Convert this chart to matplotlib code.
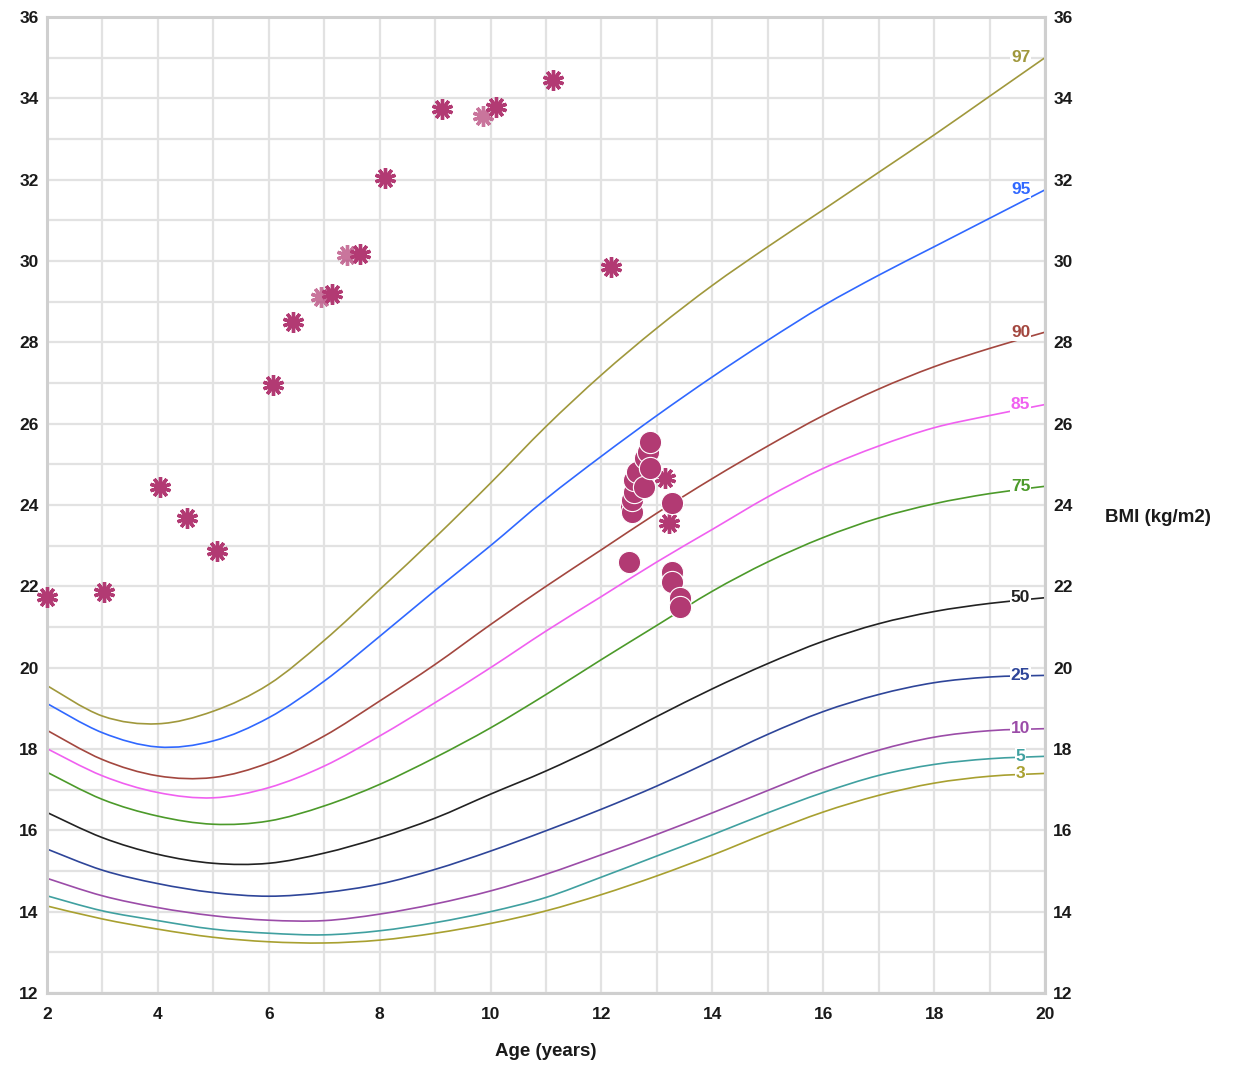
import matplotlib
matplotlib.use("Agg")
import matplotlib.pyplot as plt
from matplotlib.path import Path
from matplotlib.patches import PathPatch

plt.rcParams["font.family"] = ["Liberation Sans", "DejaVu Sans"]

# Tuổi (năm) cho các đường bách phân vị
ages = [2, 3, 4, 5, 6, 7, 8, 9, 10, 11, 12, 13, 14, 15, 16, 17, 18, 19, 20]

# Giá trị BMI đọc từ biểu đồ cho mỗi bách phân vị
p97 = [19.56, 18.81, 18.62, 18.93, 19.59, 20.67, 21.92, 23.2, 24.54, 25.93, 27.2, 28.35, 29.4, 30.35, 31.26, 32.18, 33.1, 34.05, 35.0]
p95 = [19.12, 18.4, 18.05, 18.2, 18.77, 19.67, 20.77, 21.9, 23.0, 24.15, 25.2, 26.2, 27.15, 28.05, 28.9, 29.65, 30.35, 31.05, 31.75]
p90 = [18.46, 17.74, 17.34, 17.3, 17.66, 18.32, 19.18, 20.08, 21.06, 22.0, 22.9, 23.8, 24.65, 25.45, 26.2, 26.85, 27.4, 27.85, 28.25]
p85 = [18.01, 17.34, 16.93, 16.8, 17.05, 17.58, 18.32, 19.14, 20.0, 20.9, 21.75, 22.6, 23.4, 24.2, 24.9, 25.45, 25.9, 26.2, 26.47]
p75 = [17.43, 16.76, 16.35, 16.15, 16.23, 16.6, 17.13, 17.79, 18.52, 19.34, 20.2, 21.04, 21.88, 22.6, 23.2, 23.68, 24.03, 24.28, 24.46]
p50 = [16.44, 15.82, 15.41, 15.19, 15.19, 15.44, 15.82, 16.3, 16.89, 17.46, 18.1, 18.8, 19.48, 20.1, 20.65, 21.08, 21.38, 21.58, 21.72]
p25 = [15.54, 15.02, 14.69, 14.47, 14.38, 14.47, 14.68, 15.04, 15.49, 15.99, 16.52, 17.09, 17.72, 18.36, 18.92, 19.34, 19.63, 19.77, 19.81]
p10 = [14.82, 14.39, 14.1, 13.9, 13.79, 13.78, 13.94, 14.19, 14.51, 14.92, 15.4, 15.9, 16.43, 16.98, 17.52, 17.97, 18.29, 18.45, 18.5]
p5 = [14.39, 14.02, 13.78, 13.57, 13.47, 13.43, 13.53, 13.73, 14.0, 14.35, 14.85, 15.37, 15.89, 16.43, 16.93, 17.35, 17.62, 17.76, 17.82]
p3 = [14.14, 13.82, 13.57, 13.37, 13.26, 13.23, 13.3, 13.47, 13.71, 14.02, 14.42, 14.88, 15.39, 15.94, 16.45, 16.86, 17.16, 17.33, 17.4]

percentile_names = ["97", "95", "90", "85", "75", "50", "25", "10", "5", "3"]
percentile_values = [p97, p95, p90, p85, p75, p50, p25, p10, p5, p3]
percentile_colors = ["#a0983c", "#3068ff", "#a3473f", "#f060f0", "#4c9a2a",
                     "#222222", "#2e4599", "#9b4ca8", "#40a0a0", "#a8a030"]

# Các lần đo (dấu sao)
star_age = [2.0, 3.02, 4.04, 4.53, 5.07, 6.08, 6.44, 7.14, 7.65, 8.1, 9.12, 10.1, 11.12, 12.17, 13.14, 13.22]
star_bmi = [21.73, 21.85, 24.45, 23.68, 22.87, 26.95, 28.49, 29.2, 30.17, 32.04, 33.73, 33.79, 34.45, 29.85, 24.66, 23.55]
faded_star_age = [6.94, 7.41, 9.87]
faded_star_bmi = [29.12, 30.15, 33.57]

# Các lần đo (hình tròn)
circle_age = [12.53, 12.55, 12.55, 12.58, 12.59, 12.64, 12.76, 12.79, 12.84, 12.87, 12.867,
              13.27, 12.49, 13.27, 13.27, 13.41, 13.42]
circle_bmi = [23.96, 23.84, 24.12, 24.33, 24.62, 24.82, 24.45, 25.15, 25.31, 24.9, 25.56,
              24.04, 22.61, 22.36, 22.11, 21.71, 21.5]

point_color = "#b23a73"
grid_color = "#e2e2e2"
border_color = "#cfcfcf"
text_color = "#1a1a1a"


# Vẽ đường cong mượt đi qua các điểm đọc được (Catmull-Rom -> Bezier)
def smooth_path(xs, ys):
    verts = [(xs[0], ys[0])]
    codes = [Path.MOVETO]
    n = len(xs)
    for i in range(n - 1):
        x0, y0 = (xs[i - 1], ys[i - 1]) if i > 0 else (xs[i], ys[i])
        x1, y1 = xs[i], ys[i]
        x2, y2 = xs[i + 1], ys[i + 1]
        x3, y3 = (xs[i + 2], ys[i + 2]) if i + 2 < n else (xs[i + 1], ys[i + 1])
        c1 = (x1 + (x2 - x0) / 6, y1 + (y2 - y0) / 6)
        c2 = (x2 - (x3 - x1) / 6, y2 - (y3 - y1) / 6)
        verts += [c1, c2, (x2, y2)]
        codes += [Path.CURVE4] * 3
    return Path(verts, codes)


fig = plt.figure(figsize=(12.35, 10.67), dpi=100)
ax = fig.add_axes([47 / 1235, 1 - 993 / 1067, 998 / 1235, 976 / 1067])

# Lưới
ax.set_xticks(range(2, 21), minor=True)
ax.set_yticks(range(12, 37), minor=True)
ax.grid(True, which="both", color=grid_color, linewidth=1.6, zorder=0)
ax.set_axisbelow(True)

# Đường bách phân vị
for name, vals, col in zip(percentile_names, percentile_values, percentile_colors):
    ax.add_patch(PathPatch(smooth_path(ages, vals), facecolor="none", edgecolor=col,
                           linewidth=1.2, zorder=2))
    ax.text(19.56, vals[-1], name, color=col, fontsize=12.5, fontweight="bold",
            ha="center", va="center", zorder=3,
            bbox=dict(facecolor="white", edgecolor="none", pad=0.6))

# Điểm đo
ax.plot(faded_star_age, faded_star_bmi, linestyle="none", marker=(10, 2, 0), markersize=15,
        markeredgewidth=2.4, color=point_color, alpha=0.7, zorder=4, clip_on=False)
ax.plot(star_age, star_bmi, linestyle="none", marker=(10, 2, 0), markersize=15,
        markeredgewidth=2.4, color=point_color, zorder=5, clip_on=False)
ax.plot(circle_age, circle_bmi, linestyle="none", marker="o", markersize=16,
        markerfacecolor=point_color, markeredgecolor="white", markeredgewidth=0.8,
        zorder=5, clip_on=False)

ax.set_xlim(2, 20)
ax.set_ylim(12, 36)
ax.set_xticks(range(2, 21, 2))
ax.set_yticks(range(12, 37, 2))
ax.tick_params(which="both", length=0)
ax.tick_params(axis="x", pad=10, labelsize=12.5, labelcolor=text_color)
ax.tick_params(axis="y", pad=6, labelsize=12.5, labelcolor=text_color,
               labelleft=True, labelright=True)
for lbl in ax.get_xticklabels() + ax.get_yticklabels():
    lbl.set_fontweight("bold")

for spine in ax.spines.values():
    spine.set_color(border_color)
    spine.set_linewidth(2.2)

ax.set_xlabel("Age (years)", fontsize=13.5, fontweight="bold", color=text_color, labelpad=15)
fig.text(1105 / 1235, 1 - 518 / 1067, "BMI (kg/m2)", fontsize=13.5, fontweight="bold",
         color=text_color, ha="left", va="center")

fig.savefig("out.png", dpi=100)
